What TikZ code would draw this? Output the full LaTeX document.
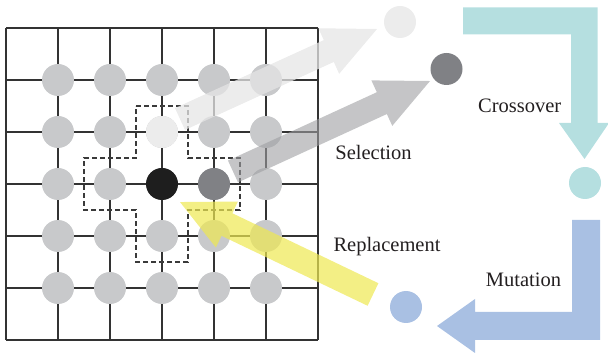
\documentclass[tikz,border=0pt]{standalone}
\usepackage{fontspec}
\setmainfont{Liberation Serif}
\definecolor{gridc}{HTML}{333333}
\definecolor{dashc}{HTML}{3A3A3A}
\definecolor{cellgray}{HTML}{C8C9CB}
\definecolor{celldark}{HTML}{808185}
\definecolor{cellblack}{HTML}{1E1E1E}
\definecolor{celllight}{HTML}{ECECEC}
\definecolor{txtc}{HTML}{231F20}
\definecolor{selA}{RGB}{229,229,229}
\definecolor{selB}{RGB}{158,159,162}
\definecolor{repc}{RGB}{238,232,81}
\definecolor{crossc}{HTML}{B5DFE0}
\definecolor{mutc}{HTML}{A9C0E3}
\newcommand{\fatarr}[7]{%
  \fill[#1, shift={#2}, rotate=#3, y=1pt]
    (0,-#5) -- ({#4-#7},-#5) -- ({#4-#7},-#6) -- (#4,0) -- ({#4-#7},#6) -- ({#4-#7},#5) -- (0,#5) -- cycle;}
\begin{document}
\begin{tikzpicture}[x=1pt,y=-1pt,
  gridline/.style={line width=1.4pt, draw=gridc},
  cell/.style={circle, fill=cellgray, minimum size=32pt, inner sep=0pt},
  lbl/.style={font=\fontsize{20.5}{24}\selectfont, text=txtc, anchor=base},
  dashbox/.style={draw=dashc, line width=1.2pt, dash pattern=on 5pt off 3pt}
]
\useasboundingbox (0,0) rectangle (608,355);
% grid
\foreach \i in {0,...,6} {
  \draw[gridline] ({6+52*\i},28) -- ({6+52*\i},340);
  \draw[gridline] (6,{28+52*\i}) -- (318,{28+52*\i});
}
% cells
\foreach \i in {1,...,5} {
  \foreach \j in {1,...,5} {
    \node[cell] (c\i\j) at ({6+52*\i},{28+52*\j}) {};
  }
}
\node[cell, fill=cellblack] (c33b) at (c33) {};
\node[cell, fill=celldark] (c43b) at (c43) {};
\node[cell, fill=celllight] (c32b) at (c32) {};
% dashed neighbourhood
\draw[dashbox] (136,106) -- (188,106) -- (188,158) -- (240,158) -- (240,210)
  -- (188,210) -- (188,262) -- (136,262) -- (136,210) -- (84,210) -- (84,158)
  -- (136,158) -- cycle;
% selection arrows
\fatarr{selA, opacity=0.75}{(180,119)}{24.55}{216.6}{12}{25}{53}
\fatarr{selB, opacity=0.6}{(233,171.5)}{24.67}{216.8}{12}{25}{53}
% replacement arrow
\fatarr{repc, opacity=0.7}{(373,294.5)}{154.4}{214}{12.5}{25.5}{52}
% crossover arrow
\fill[crossc] (463,7.5) -- (597.5,7.5) -- (597.5,123) -- (609,123) -- (584.5,159)
  -- (559,123) -- (571,123) -- (571,34.5) -- (463,34.5) -- cycle;
% mutation arrow
\fill[mutc] (572,220) -- (600,220) -- (600,340) -- (475,340) -- (475,353)
  -- (437,326) -- (475,299) -- (475,312) -- (572,312) -- cycle;
% offspring circles
\node[cell, fill=celllight] (sel1) at (400,22) {};
\node[cell, fill=celldark] (sel2) at (446.5,69) {};
\node[cell, fill=crossc] (crs) at (585,183) {};
\node[cell, fill=mutc] (mut) at (406,307) {};
% labels
\node[lbl] (lsel) at (373.5,160) {Selection};
\node[lbl] (lrep) at (387,251.5) {Replacement};
\node[lbl] (lcro) at (519.7,112.5) {Crossover};
\node[lbl] (lmut) at (523.5,286.5) {Mutation};
\end{tikzpicture}
\end{document}
